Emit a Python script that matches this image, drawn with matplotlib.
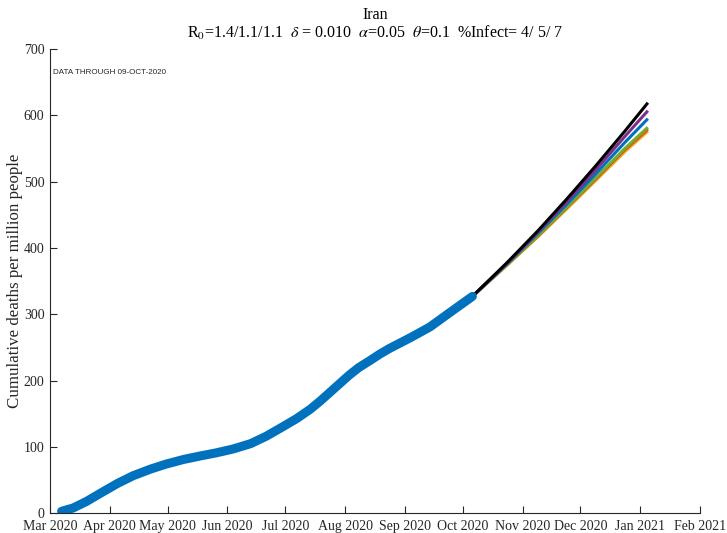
import numpy as np
import pandas as pd
import matplotlib
matplotlib.use("Agg")
import matplotlib.pyplot as plt
import matplotlib.dates as mdates

plt.rcParams['font.family'] = ['Liberation Serif', 'DejaVu Serif']
plt.rcParams['mathtext.fontset'] = 'stix'

obs_dates = ["2020-03-07", "2020-03-13", "2020-03-20", "2020-03-27", "2020-04-05",
             "2020-04-13", "2020-04-22", "2020-04-30", "2020-05-09", "2020-05-18",
             "2020-05-26", "2020-06-04", "2020-06-13", "2020-06-21", "2020-06-30",
             "2020-07-07", "2020-07-14", "2020-07-19", "2020-07-24", "2020-07-29",
             "2020-08-03", "2020-08-08", "2020-08-14", "2020-08-19", "2020-08-24",
             "2020-09-04", "2020-09-14", "2020-09-24", "2020-10-06"]
obs_deaths = [3, 8, 18, 30, 45,
              56.5, 66.5, 74, 81, 86.5,
              91, 97, 105, 116, 131,
              143, 157, 169, 182, 195,
              208, 219.5, 230.5, 240, 248.5,
              265, 281, 302, 327]

# === projections ===
proj_dates = ["2020-10-06", "2020-10-24", "2020-11-09", "2020-11-24",
              "2020-12-09", "2020-12-24", "2021-01-05"]
proj_yellow = [327, 374, 417, 459, 502, 545, 576]
proj_orange = [327, 375, 418, 461, 504, 548, 579]
proj_green = [327, 375, 419, 462, 506, 550, 582]
proj_blue = [327, 376, 422, 466, 512, 559, 595]
proj_purple = [327, 377, 424, 470, 518, 568, 607]
proj_black = [327, 378, 426, 474, 524, 576, 619]

proj_series = [(proj_yellow, '#EDB120'), (proj_orange, '#D95319'),
               (proj_green, '#77AC30'), (proj_blue, '#0072BD'),
               (proj_purple, '#7E2F8E'), (proj_black, 'black')]

fig = plt.figure(figsize=(7.27, 5.33), dpi=100)
ax = fig.add_axes([0.0688, 0.037, 0.894, 0.871])

pd_proj = pd.to_datetime(proj_dates)
for vals, col in proj_series:
    ax.plot(pd_proj, vals, color=col, linewidth=2.2, solid_capstyle='butt',
            solid_joinstyle='round')

ax.plot(pd.to_datetime(obs_dates), obs_deaths, color='#0072BD', linewidth=6.5,
        solid_capstyle='round', solid_joinstyle='round')

ax.set_xlim(pd.Timestamp("2020-03-01"), pd.Timestamp("2021-02-01"))
ax.set_ylim(0, 700)
ax.xaxis.set_major_locator(mdates.MonthLocator())
ax.xaxis.set_major_formatter(mdates.DateFormatter('%b %Y'))
ax.set_yticks(np.arange(0, 701, 100))

for s in ['top', 'right']:
    ax.spines[s].set_visible(False)
for s in ['left', 'bottom']:
    ax.spines[s].set_color('#262626')
    ax.spines[s].set_linewidth(0.8)
ax.tick_params(direction='in', length=5, width=0.8, colors='#262626',
               labelsize=10)
ax.tick_params(axis='x', pad=4.5)
ax.tick_params(axis='y', pad=4)

ax.set_ylabel("Cumulative deaths per million people", fontsize=12.2, color='#262626')
ax.yaxis.set_label_coords(-0.041, 0.5)
ax.set_title("Iran\n" + r"R$_0$=1.4/1.1/1.1  $\delta$ = 0.010  $\alpha$=0.05  $\theta$=0.1  %Infect= 4/ 5/ 7",
             fontsize=11.5, linespacing=1.1, pad=8)

ax.text(0.004, 0.949, "DATA THROUGH 09-OCT-2020", transform=ax.transAxes,
        fontsize=5.8, family='Liberation Sans', color='#262626', va='center')

plt.savefig("out.png", dpi=100)
